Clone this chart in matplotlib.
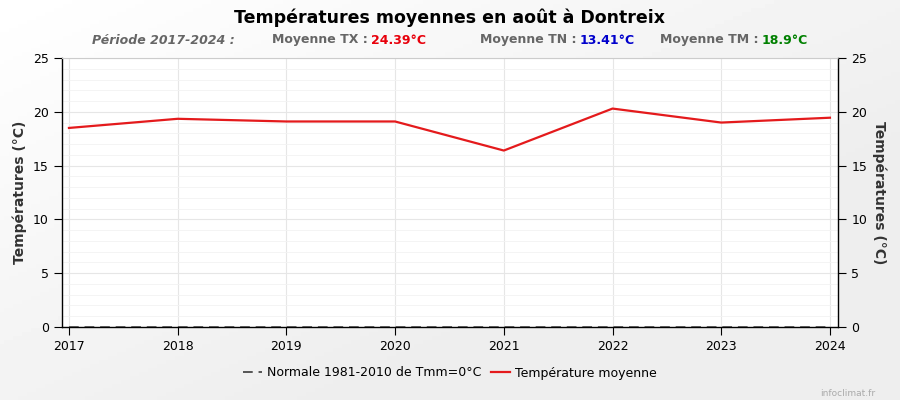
import numpy as np
import matplotlib.pyplot as plt

annees = [2017, 2018, 2019, 2020, 2021, 2022, 2023, 2024]
temp_moyenne = [18.5, 19.35, 19.1, 19.1, 16.4, 20.3, 19.0, 19.45]
normale = [0, 0, 0, 0, 0, 0, 0, 0]
moy_tx, moy_tn, moy_tm = "24.39°C", "13.41°C", "18.9°C"

plt.rcParams['font.family'] = ['DejaVu Sans']

fig = plt.figure(figsize=(9, 4), dpi=100)

# fond en dégradé (clair en haut à gauche, plus gris en bas à droite)
bg = fig.add_axes([0, 0, 1, 1], zorder=-10)
gx, gy = np.meshgrid(np.linspace(0, 1, 200), np.linspace(0, 1, 100))
grad = 1.0 - 0.07 * np.clip((gx + gy) / 1.4, 0, 1)
bg.imshow(grad, cmap='gray', vmin=0, vmax=1, aspect='auto', extent=[0, 1, 0, 1])
bg.axis('off')

ax = fig.add_axes([62 / 900, 1 - 327 / 400, (838 - 62) / 900, (327 - 58) / 400])
ax.set_facecolor('white')

ax.plot(annees, normale, color='#555555', linestyle=(0, (5, 3)), linewidth=1.4,
        label='Normale 1981-2010 de Tmm=0°C', zorder=3)
ax.plot(annees, temp_moyenne, color='#e41a1c', linewidth=1.6,
        label='Température moyenne', zorder=4)

ax.set_xlim(2016.936, 2024.074)
ax.set_ylim(0, 25)
ax.set_xticks(annees)
ax.set_yticks(np.arange(0, 26, 5))
ax.set_yticks(np.arange(0, 26, 1), minor=True)
ax.grid(True, which='major', color='#e6e6e6', linewidth=0.8)
ax.grid(True, which='minor', axis='y', color='#f2f2f2', linewidth=0.6)
ax.tick_params(axis='y', which='minor', length=0)
ax.tick_params(axis='both', which='major', labelsize=9, colors='black', length=6)

for s in ['left', 'right', 'bottom']:
    ax.spines[s].set_color('black')
    ax.spines[s].set_linewidth(1.0)
ax.spines['top'].set_color('#cccccc')

ax.set_ylabel('Températures (°C)', fontsize=10, fontweight='bold', color='#333333')

ax2 = ax.twinx()
ax2.set_ylim(0, 25)
ax2.set_yticks(np.arange(0, 26, 5))
ax2.tick_params(axis='y', labelsize=9, length=6)
ax2.set_ylabel('Températures (°C)', fontsize=10, fontweight='bold', color='#333333',
               rotation=270, labelpad=14)
for s in ['left', 'right', 'bottom', 'top']:
    ax2.spines[s].set_visible(False)

fig.text(0.5, 1 - 18 / 400, 'Températures moyennes en août à Dontreix', ha='center',
         va='center', fontsize=12.5, fontweight='bold')

sy = 1 - 40 / 400
fs = 9
fig.text(92 / 900, sy, 'Période 2017-2024 :', ha='left', va='center', fontsize=fs,
         fontweight='bold', style='italic', color='#666666')
fig.text(368 / 900, sy, 'Moyenne TX :', ha='right', va='center', fontsize=fs,
         fontweight='bold', color='#666666')
fig.text(371 / 900, sy, moy_tx, ha='left', va='center', fontsize=fs,
         fontweight='bold', color='#e8000b')
fig.text(577 / 900, sy, 'Moyenne TN :', ha='right', va='center', fontsize=fs,
         fontweight='bold', color='#666666')
fig.text(580 / 900, sy, moy_tn, ha='left', va='center', fontsize=fs,
         fontweight='bold', color='#0000cc')
fig.text(759 / 900, sy, 'Moyenne TM :', ha='right', va='center', fontsize=fs,
         fontweight='bold', color='#666666')
fig.text(762 / 900, sy, moy_tm, ha='left', va='center', fontsize=fs,
         fontweight='bold', color='#008000')

fig.legend(loc='center', bbox_to_anchor=(0.5, 1 - 373 / 400), ncol=2, frameon=False,
           fontsize=9, handlelength=1.5, columnspacing=0.8, handletextpad=0.4)

fig.text(875 / 900, 1 - 393 / 400, 'infoclimat.fr', ha='right', va='center',
         fontsize=6.5, color='#aaaaaa')

fig.savefig('out.png', dpi=100)
